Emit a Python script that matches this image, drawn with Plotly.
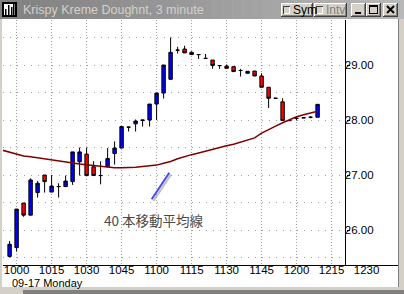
import plotly.graph_objects as go
import pandas as pd

# ---------------- data ----------------
title_text = "Krispy Kreme Doughnt, 3 minute"
session_date = "2001-09-17"
date_label = "09-17 Monday"
ma_label = "40 本移動平均線"

bar_times = ["09:57", "10:00", "10:03", "10:06", "10:09", "10:12", "10:15", "10:18", "10:21",
             "10:24", "10:27", "10:30", "10:33", "10:36", "10:39", "10:42", "10:45", "10:48",
             "10:51", "10:54", "10:57", "11:00", "11:03", "11:06", "11:09", "11:12", "11:15",
             "11:18", "11:21", "11:24", "11:27", "11:30", "11:33", "11:36", "11:39", "11:42",
             "11:45", "11:48", "11:51", "11:54", "11:57", "12:00", "12:03", "12:06", "12:09"]

opens = [25.52, 25.68, 26.49, 26.27, 26.68, 27.00, 26.69, 26.79, 26.79, 26.88,
         27.24, 27.38, 27.15, 26.99, 27.15, 27.39, 27.49, 27.87, 27.93, 27.99,
         28.00, 28.29, 28.49, 28.74, 29.27, 29.29, 29.23, 29.19, 29.12, 29.09,
         28.99, 28.98, 28.97, 28.90, 28.85, 28.89, 28.80, 28.595, 28.395, 28.33,
         27.99, 28.03, 28.04, 28.05, 28.05]
highs = [25.80, 26.38, 26.49, 26.94, 26.89, 27.00, 27.00, 26.85, 26.99, 27.42,
         27.50, 27.50, 27.25, 27.25, 27.49, 27.61, 27.88, 27.87, 28.01, 28.00,
         28.29, 28.49, 29.00, 29.50, 29.33, 29.35, 29.25, 29.19, 29.20, 29.09,
         28.99, 29.01, 28.97, 28.93, 28.89, 28.89, 28.85, 28.595, 28.395, 28.395,
         27.99, 28.07, 28.05, 28.07, 28.29]
lows = [25.50, 25.61, 26.24, 26.27, 26.59, 26.68, 26.69, 26.59, 26.78, 26.82,
        26.99, 26.99, 26.99, 26.83, 27.15, 27.19, 27.49, 27.79, 27.79, 27.88,
        27.88, 28.00, 28.39, 28.74, 29.21, 29.22, 29.19, 29.11, 29.12, 28.93,
        28.93, 28.94, 28.88, 28.79, 28.85, 28.80, 28.595, 28.22, 28.395, 27.99,
        27.99, 27.99, 28.04, 28.03, 28.05]
closes = [25.74, 26.38, 26.27, 26.91, 26.85, 26.88, 26.80, 26.79, 26.89, 27.42,
          27.42, 26.99, 26.99, 26.99, 27.30, 27.49, 27.88, 27.87, 27.98, 28.00,
          28.29, 28.49, 29.00, 29.23, 29.27, 29.22, 29.19, 29.19, 29.12, 28.99,
          28.99, 28.94, 28.88, 28.90, 28.885, 28.80, 28.595, 28.395, 28.395, 27.99,
          27.99, 28.03, 28.04, 28.05, 28.285]

ma_times = ["09:54"] + bar_times
ma40 = [27.45, 27.415, 27.38, 27.345, 27.33, 27.31, 27.29, 27.27, 27.25, 27.23,
        27.22, 27.20, 27.185, 27.17, 27.15, 27.14, 27.13, 27.13, 27.13, 27.14,
        27.155, 27.17, 27.18, 27.215, 27.245, 27.295, 27.335, 27.37, 27.40, 27.435,
        27.46, 27.495, 27.53, 27.56, 27.60, 27.64, 27.675, 27.76, 27.83, 27.89,
        27.95, 28.01, 28.06, 28.095, 28.13, 28.16]

x_tick_times = ["10:00", "10:15", "10:30", "10:45", "11:00", "11:15", "11:30",
                "11:45", "12:00", "12:15", "12:30"]
x_tick_labels = ["1000", "1015", "1030", "1045", "1100", "1115", "1130",
                 "1145", "1200", "1215", "1230"]
y_tick_vals = [26, 27, 28, 29]
y_tick_labels = ["26.00", "27.00", "28.00", "29.00"]

# ---------------- geometry (pixels) ----------------
W, H = 404, 294
PL, PR, PT, PB = 3, 398, 20, 265      # plot area (axis line at PB)
PANEL = 345                            # price panel divider
BAR0_PX, BAR_PITCH, BAR_MIN = 9.6, 7.0, 3.0
BASE = pd.Timestamp(session_date + " 09:57")
PX_28, PX_PER_DOLLAR = 120.0, 55.0


def ts(t):
    return session_date + " " + t


def time_at(p):
    return str(BASE + pd.Timedelta(minutes=(p - BAR0_PX) / BAR_PITCH * BAR_MIN))


def price_at(y):
    return 28 + (PX_28 - y) / PX_PER_DOLLAR


def fx(x):
    return x / W


def fy(y):
    return 1 - y / H


shapes = []


def rect(x0, y0, x1, y1, fill, layer="above", line=None, lw=0):
    shapes.append(dict(type="rect", xref="paper", yref="paper",
                       x0=fx(x0), x1=fx(x1), y0=fy(y1), y1=fy(y0),
                       fillcolor=fill, layer=layer,
                       line=dict(color=line or fill, width=lw)))


def seg(x0, y0, x1, y1, color, w=1, layer="above"):
    shapes.append(dict(type="line", xref="paper", yref="paper",
                       x0=fx(x0), x1=fx(x1), y0=fy(y0), y1=fy(y1),
                       layer=layer, line=dict(color=color, width=w)))


# ---------------- traces ----------------
fig = go.Figure()
fig.add_trace(go.Candlestick(
    x=[ts(t) for t in bar_times], open=opens, high=highs, low=lows, close=closes,
    increasing=dict(line=dict(color="black", width=1), fillcolor="#0000ff"),
    decreasing=dict(line=dict(color="black", width=1), fillcolor="#ff0000"),
    whiskerwidth=0, hoverinfo="skip", showlegend=False))
fig.add_trace(go.Scatter(
    x=[ts(t) for t in ma_times], y=ma40, mode="lines",
    line=dict(color="#800000", width=1.5), hoverinfo="skip", showlegend=False))

# mask grid inside price panel
shapes.append(dict(type="rect", xref="x", yref="y",
                   x0=time_at(PANEL + 0.5), x1=time_at(PR + 2),
                   y0=price_at(PB - 0.5), y1=price_at(PT - 2),
                   fillcolor="white", line=dict(width=0), layer="between"))

# ---------------- window chrome ----------------
# title bar gradient (inactive)
n = 40
for k in range(n):
    c0, c1 = (0x80, 0x80, 0x80), (0xb8, 0xb8, 0xb8)
    f = k / (n - 1)
    col = "rgb(%d,%d,%d)" % tuple(int(a + (b - a) * f) for a, b in zip(c0, c1))
    rect(k * W / n, 0, (k + 1) * W / n + 0.5, 19, col)
# frame borders
rect(0, 19, 2, H, "#d4d0c8")
rect(398, 19, W, H, "#d4d0c8")
seg(398.5, 19, 398.5, 287, "#808080")
rect(0, 287, W, 290, "#d4d0c8")
rect(23, 290, W, H, "#808080")
rect(0, 290, 23, H, "#d4d0c8")

# icon
rect(2, 2, 17, 17, "black")
rect(4, 4, 15, 15, "white")
for bx, top in [(5, 9), (8, 5), (11, 7), (13, 4)]:
    rect(bx, top, bx + 1.5, 15, "black")


def button(x0, y0, x1, y1):
    rect(x0, y0, x1, y1, "#404040")
    rect(x0, y0, x1 - 1, y1 - 1, "white")
    rect(x0 + 1, y0 + 1, x1 - 1, y1 - 1, "#808080")
    rect(x0 + 1, y0 + 1, x1 - 2, y1 - 2, "#d4d0c8")


button(281, 3, 313, 17)
button(314, 3, 347, 17)
button(351, 3, 366, 17)
button(366, 3, 381, 17)
button(383, 3, 398, 17)
# checkbox squares in Sym / Intv
for cx in (283, 316):
    rect(cx, 6, cx + 7, 14, "#404040")
    rect(cx + 1, 7, cx + 7, 14, "white")
    rect(cx + 1, 7, cx + 6, 13, "#d4d0c8")
# minimize
rect(355, 12, 361, 14, "black")
# maximize
rect(369, 5, 378, 14, "black")
rect(370, 7, 377, 13, "#d4d0c8")
# close
seg(387, 6, 394, 13, "black", 2)
seg(394, 6, 387, 13, "black", 2)

# price panel divider
seg(PANEL + 0.5, PT, PANEL + 0.5, PB, "black", 1)

# MA pointer line with shadow
seg(153.5, 201, 171, 174.5, "rgba(150,150,150,0.6)", 2)
seg(151.7, 199.3, 169.3, 172.7, "#4848f0", 2)

annotations = [
    dict(text=title_text, x=fx(21), y=fy(10), xref="paper", yref="paper",
         xanchor="left", yanchor="middle", showarrow=False,
         font=dict(family="Liberation Sans", size=12.5, color="#d4d0c8")),
    dict(text="Sym", x=fx(291), y=fy(10.5), xref="paper", yref="paper",
         xanchor="left", yanchor="middle", showarrow=False,
         font=dict(family="Liberation Sans", size=12, color="black")),
    dict(text="Intv", x=fx(324), y=fy(10.5), xref="paper", yref="paper",
         xanchor="left", yanchor="middle", showarrow=False,
         font=dict(family="Liberation Sans", size=12, color="#808080")),
    dict(text=ma_label, x=fx(102), y=fy(220), xref="paper", yref="paper",
         xanchor="left", yanchor="middle", showarrow=False,
         font=dict(family="Noto Sans CJK JP", size=13.5, color="#4a4a4a")),
    dict(text=date_label, x=fx(10), y=fy(282.5), xref="paper", yref="paper",
         xanchor="left", yanchor="middle", showarrow=False,
         font=dict(family="Liberation Sans", size=11, color="black")),
]

fig.update_layout(
    width=W, height=H, margin=dict(l=0, r=0, t=0, b=0),
    paper_bgcolor="white", plot_bgcolor="white",
    showlegend=False, hovermode=False,
    shapes=shapes, annotations=annotations,
    xaxis=dict(
        type="date", domain=[fx(PL), fx(PR)],
        range=[time_at(PL), time_at(PR)],
        tickmode="array", tickvals=[ts(t) for t in x_tick_times], ticktext=x_tick_labels,
        showgrid=True, gridcolor="#a0a0a0", griddash="1px,2px", gridwidth=1,
        showline=True, linecolor="black", linewidth=1, ticks="",
        ticklabelstandoff=-6,
        tickfont=dict(family="Liberation Sans", size=11.5, color="black"),
        zeroline=False, rangeslider=dict(visible=False), fixedrange=True, anchor="y"),
    yaxis=dict(
        domain=[fy(PB), fy(PT)], range=[price_at(PB), price_at(PT)],
        anchor="free", position=fx(PANEL + 0.5), side="right",
        tickmode="array", tickvals=y_tick_vals, ticktext=y_tick_labels,
        showgrid=True, gridcolor="#a0a0a0", griddash="1px,6px", gridwidth=1,
        minor=dict(tickmode="linear", tick0=0, dtick=0.5, showgrid=True,
                   gridcolor="#a0a0a0", griddash="1px,6px", ticks=""),
        showline=False, ticks="outside", ticklen=3, tickcolor="black",
        ticklabelstandoff=-7,
        tickfont=dict(family="Liberation Sans", size=11.5, color="black"),
        zeroline=False, fixedrange=True),
)

fig.write_html("out.html")
